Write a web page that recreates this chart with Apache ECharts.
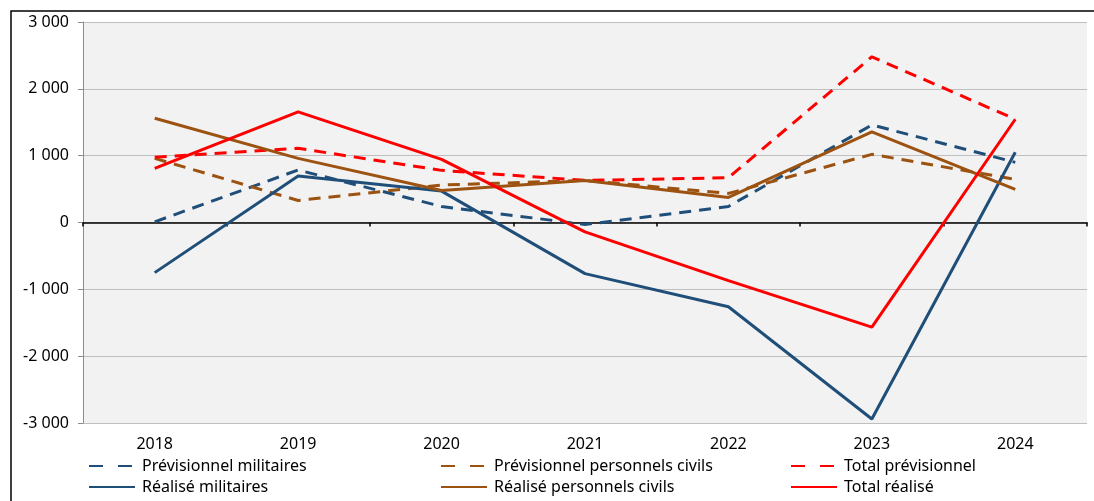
<!DOCTYPE html>
<html><head><meta charset="utf-8">
<script src="https://cdn.jsdelivr.net/npm/echarts@6/dist/echarts.min.js"></script>
<style>html,body{margin:0;padding:0;background:#fff}#c{width:1094px;height:501px}</style>
</head><body><div id="c"></div>
<script>
const categories = ['2018','2019','2020','2021','2022','2023','2024'];
const prevMilitaires = [10, 785, 240, -30, 240, 1460, 900];
const prevCivils = [960, 330, 560, 630, 435, 1020, 645];
const totalPrev = [975, 1110, 780, 630, 670, 2480, 1545];
const realMilitaires = [-750, 695, 470, -765, -1260, -2940, 1050];
const realCivils = [1560, 960, 480, 630, 375, 1355, 495];
const totalReal = [810, 1655, 945, -140, -870, -1565, 1545];
const yTicks = {min: -3000, max: 3000, interval: 1000};

const BLUE = '#1F4E79', BROWN = '#9C5210', RED = '#FF0000';
const FONT = 'Noto Sans';
const FS = 16;
const dash = [12, 8];
function ser(name, data, color, dashed) {
  return {name, type: 'line', data, symbol: 'none', xAxisIndex: 0,
    lineStyle: {color, width: 3, type: dashed ? dash : 'solid', cap: 'butt'},
    itemStyle: {color}, emphasis: {disabled: true}};
}
const legDash = n => ({name: n, lineStyle: {type: [14, 15]}});
const chart = echarts.init(document.getElementById('c'));
const legendCommon = {orient: 'vertical', top: 458, itemWidth: 46, itemHeight: 14, itemGap: 5,
  itemStyle: {opacity: 0},
  textStyle: {fontFamily: FONT, fontSize: FS, color: '#000', padding: [0,0,0,2]}, padding: 0, selectedMode: false};
chart.setOption({
  animation: false,
  backgroundColor: '#fff',
  textStyle: {fontFamily: FONT},
  graphic: [{type: 'rect', shape: {x: 11, y: 11, width: 1100, height: 600},
    style: {fill: 'none', stroke: '#000', lineWidth: 1.5}, z: 100}],
  grid: {left: 83, right: 7, top: 22, bottom: 78, show: true, backgroundColor: '#F2F2F2', borderWidth: 0},
  legend: [
    Object.assign({left: 88, data: [legDash('Prévisionnel militaires'), 'Réalisé militaires']}, legendCommon),
    Object.assign({left: 440, data: [legDash('Prévisionnel personnels civils'), 'Réalisé personnels civils']}, legendCommon),
    Object.assign({left: 790, data: [legDash('Total prévisionnel'), 'Total réalisé']}, legendCommon)
  ],
  xAxis: [
    {type: 'category', data: categories, position: 'bottom',
      axisLine: {show: false, onZero: false}, axisTick: {show: false},
      axisLabel: {fontFamily: FONT, fontSize: FS, color: '#000', margin: 13}},
    {type: 'category', data: categories, position: 'bottom',
      axisLine: {show: true, onZero: true, lineStyle: {color: '#000', width: 1.5}},
      axisTick: {show: true, length: 4, lineStyle: {color: '#000', width: 1.5}},
      axisLabel: {show: false}}
  ],
  yAxis: {type: 'value', min: yTicks.min, max: yTicks.max, interval: yTicks.interval,
    axisLine: {show: true, lineStyle: {color: '#8c8c8c', width: 1}},
    axisTick: {show: true, length: 5, lineStyle: {color: '#8c8c8c'}},
    splitLine: {lineStyle: {color: '#BFBFBF', width: 1}},
    axisLabel: {fontFamily: FONT, fontSize: FS, color: '#000', margin: 14,
      formatter: v => {const s = Math.abs(v).toString().replace(/\B(?=(\d{3})+(?!\d))/g, ' '); return (v < 0 ? '-' : '') + s;}}},
  series: [
    ser('Prévisionnel militaires', prevMilitaires, BLUE, true),
    ser('Prévisionnel personnels civils', prevCivils, BROWN, true),
    ser('Total prévisionnel', totalPrev, RED, true),
    ser('Réalisé militaires', realMilitaires, BLUE, false),
    ser('Réalisé personnels civils', realCivils, BROWN, false),
    ser('Total réalisé', totalReal, RED, false)
  ]
});
</script></body></html>
